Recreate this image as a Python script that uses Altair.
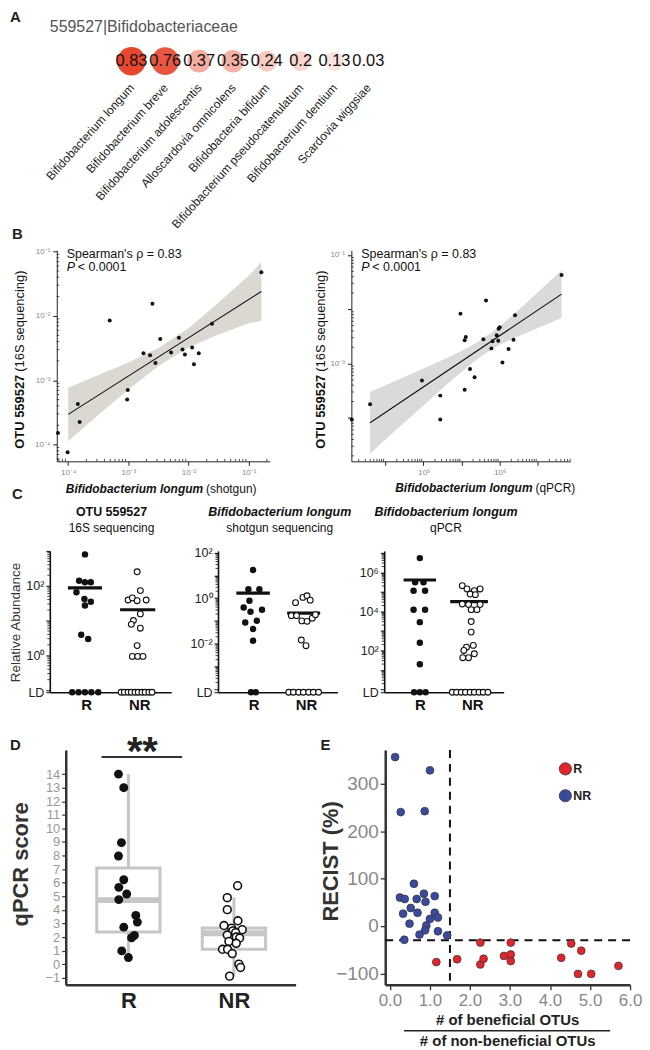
import math
import altair as alt
import pandas as pd

FONT = "Liberation Sans, Arial, sans-serif"

# ---------------- Panel A data ----------------
A_SPECIES = ["Bifidobacterium longum", "Bifidobacterium breve", "Bifidobacterium adolescentis",
             "Alloscardovia omnicolens", "Bifidobacteria bifidum", "Bifidobacterium pseudocatenulatum",
             "Bifidobacterium dentium", "Scardovia wiggsiae"]
A_RHO = [0.83, 0.76, 0.37, 0.35, 0.24, 0.2, 0.13, 0.03]
A_LABELS = ["0.83", "0.76", "0.37", "0.35", "0.24", "0.2", "0.13", "0.03"]
A_TITLE = "559527|Bifidobacteriaceae"

# ---------------- Panel B data (log10 values) ----------------
B1_X = [-0.79, -1.61, -2.60, -3.31, -2.47, -2.16, -2.75, -2.64, -2.29, -2.10, -2.06, -1.94, -1.83,
        -2.55, -1.91, -3.01, -3.02, -3.84, -3.81, -4.01, -4.17]
B1_Y = [-1.32, -2.12, -1.81, -2.07, -2.36, -2.34, -2.58, -2.61, -2.57, -2.52, -2.60, -2.49, -2.58,
        -2.73, -2.75, -3.15, -3.30, -3.37, -3.65, -4.12, -3.82]
B1_LINE_X = [-4.0, -0.79]
B1_LINE_Y = [-3.53, -1.62]
B1_BAND_X = [-4.0, -3.5, -3.0, -2.5, -2.0, -1.5, -1.0, -0.79]
B1_BAND_LO = [-3.945, -3.54, -3.145, -2.78, -2.49, -2.29, -2.115, -2.08]
B1_BAND_HI = [-3.115, -2.92, -2.725, -2.50, -2.19, -1.79, -1.375, -1.16]

B2_X = [6.62, 4.64, 3.97, 5.40, 5.00, 4.97, 4.92, 4.11, 4.08, 4.57, 4.81, 4.96, 5.36, 4.78, 5.23,
        5.07, 4.22, 4.34, 2.96, 4.08, 3.44, 1.60, 3.44, 1.12]
B2_Y = [-1.37, -1.84, -2.08, -2.11, -2.33, -2.36, -2.48, -2.51, -2.57, -2.55, -2.59, -2.58, -2.56,
        -2.72, -2.73, -2.98, -3.10, -3.25, -3.31, -3.48, -3.59, -3.75, -4.03, -4.03]
B2_LINE_X = [1.6, 6.62]
B2_LINE_Y = [-4.09, -1.72]
B2_BAND_X = [1.6, 2.0, 2.5, 3.0, 3.5, 4.0, 4.5, 5.0, 5.5, 6.0, 6.62]
B2_BAND_LO = [-4.66, -4.40, -4.085, -3.77, -3.455, -3.15, -2.87, -2.655, -2.49, -2.345, -2.16]
B2_BAND_HI = [-3.52, -3.40, -3.245, -3.09, -2.935, -2.77, -2.57, -2.315, -2.01, -1.685, -1.28]
RHO_TEXT = "Spearman's \u03c1 = 0.83"
P_TEXT = "< 0.0001"

# ---------------- Panel C data (log10 values; LD = limit of detection) ----------------
C1_LD = -1.06
C1_R_X = [0.98, 0.87, 0.98, 1.09, 0.82, 0.97, 1.09, 0.98, 0.91, 1.04, 0.74, 0.86, 0.98, 1.10, 1.23]
C1_R_Y = [2.90, 2.14, 2.10, 2.10, 1.81, 1.62, 1.54, 1.43, 0.59, 0.47] + [C1_LD] * 5
C1_NR_X = [1.96, 2.02, 1.79, 1.87, 1.96, 2.13, 2.02, 1.89, 1.85, 2.02, 1.96, 1.87, 1.97, 2.07,
           1.66, 1.72, 1.79, 1.85, 1.92, 1.98, 2.05, 2.11, 2.18, 2.24]
C1_NR_Y = [2.40, 1.86, 1.59, 1.65, 1.57, 1.59, 1.19, 1.00, 0.89, 0.78, 0.28, -0.03, -0.03, -0.03] + [C1_LD] * 10
C1_BAR_X0 = [0.66, 1.64]
C1_BAR_X1 = [1.30, 2.30]
C1_BAR_Y = [1.94, 1.31]

C2_LD = -4.13
C2_R_X = [0.99, 0.90, 1.11, 0.92, 0.81, 1.16, 0.94, 1.06, 0.84, 0.99, 0.99, 0.95, 1.04]
C2_R_Y = [1.23, 0.39, 0.39, -0.12, -0.41, -0.51, -0.60, -0.99, -1.07, -1.36, -1.87, C2_LD, C2_LD]
C2_NR_X = [1.80, 1.94, 2.02, 2.08, 1.72, 1.82, 1.92, 2.02, 2.12, 2.18, 1.91, 2.00,
           1.67, 1.76, 1.86, 1.95, 2.05, 2.14, 2.24]
C2_NR_Y = [-0.20, 0.03, 0.10, -0.09, -0.77, -0.77, -1.00, -1.02, -0.88, -0.73, -1.84, -2.09] + [C2_LD] * 7
C2_BAR_X0 = [0.67, 1.64]
C2_BAR_X1 = [1.31, 2.27]
C2_BAR_Y = [0.22, -0.66]

C3_LD = -0.14
C3_R_X = [1.0, 0.91, 1.07, 0.88, 1.10, 0.88, 1.10, 1.0, 1.0, 1.0, 0.89, 1.0, 1.11]
C3_R_Y = [6.73, 5.49, 5.49, 5.06, 5.06, 4.09, 4.09, 3.45, 2.39, 1.29, C3_LD, C3_LD, C3_LD]
C3_NR_X = [1.81, 1.90, 2.04, 2.15, 1.96, 2.06, 1.81, 1.93, 2.15, 1.98, 2.09, 1.98, 1.98, 1.89,
           2.02, 1.84, 1.82, 1.93, 2.04, 1.62, 1.70, 1.79, 1.87, 1.96, 2.04, 2.13, 2.21, 2.30]
C3_NR_Y = [5.32, 5.15, 5.06, 5.15, 4.89, 4.86, 4.38, 4.35, 4.35, 4.09, 4.09, 3.48, 2.94, 2.17,
           2.26, 2.00, 1.63, 1.63, 1.83] + [C3_LD] * 9
C3_BAR_X0 = [0.69, 1.58]
C3_BAR_X1 = [1.31, 2.30]
C3_BAR_Y = [5.61, 4.50]

# ---------------- Panel D data ----------------
D_R_X = [0.906, 0.956, 0.934, 0.906, 0.956, 0.909, 0.984, 0.909, 1.07, 1.085, 0.956, 1.057, 1.03, 0.937, 1.0]
D_R_Y = [14.0, 13.0, 8.95, 7.97, 6.22, 5.66, 5.17, 4.76, 3.59, 3.10, 2.73, 2.12, 1.95, 0.98, 0.49]
D_NR_X = [2.035, 1.937, 1.937, 2.038, 1.906, 1.978, 2.079, 1.99, 1.937, 2.016, 2.022, 2.054, 1.953,
          2.022, 1.892, 1.94, 1.984, 2.047, 2.063, 1.959]
D_NR_Y = [5.78, 4.90, 4.02, 3.20, 2.85, 2.66, 2.54, 2.45, 2.15, 2.32, 2.00, 1.93, 1.68, 1.54, 1.10,
          1.10, 0.78, 0.0, -0.24, -0.88]
D_GROUPS = [1, 2]
D_Q1 = [2.37, 1.10]
D_Q3 = [7.08, 2.66]
D_MED = [4.72, 2.28]
D_LO = [0.49, -0.85]
D_HI = [14.0, 4.93]

# ---------------- Panel E data ----------------
E_NR_X = [0.13, 1.00, 0.27, 0.87, 0.60, 0.25, 0.37, 0.67, 0.85, 1.12, 0.89, 0.52, 0.69, 0.33, 1.12,
          1.20, 1.00, 0.49, 0.91, 0.74, 0.88, 1.20, 1.43, 0.36]
E_NR_Y = [356, 328, 240, 242, 89, 60, 57, 57, 68, 63, 51, 38, 28, 26, 28, 18, 15, 5, 1, -18, -9,
          -11, -20, -29]
E_R_X = [2.26, 3.02, 4.53, 4.78, 1.16, 1.68, 2.26, 2.34, 2.85, 3.02, 3.02, 4.28, 4.70, 5.03, 5.71]
E_R_Y = [-35, -35, -37, -52, -76, -70, -81, -69, -63, -60, -74, -67, -101, -101, -84]
E_CUT_X = [1.5]
E_CUT_Y = [-30]

# ---------------- helpers ----------------
SUP = str.maketrans("-0123456789", "\u207b\u2070\u00b9\u00b2\u00b3\u2074\u2075\u2076\u2077\u2078\u2079")


def pow_label(n):
    return "10" + str(n).translate(SUP)


def label_expr(pairs):
    expr = "''"
    for v, t in reversed(pairs):
        expr = f"abs(datum.value - ({v})) < 1e-6 ? '{t}' : " + expr
    return expr


def txt(text, x, y, **kw):
    return alt.Chart(pd.DataFrame({"t": [text]})).mark_text(**kw).encode(
        x=alt.value(x), y=alt.value(y), text="t:N")


def hline(x1, x2, y, **kw):
    return alt.Chart(pd.DataFrame({"a": [0]})).mark_rule(**kw).encode(
        x=alt.value(x1), x2=alt.value(x2), y=alt.value(y))


def extent(top, bottom):
    # invisible frame that fixes the row's bounding box for the layout
    return alt.Chart(pd.DataFrame({"a": [0]})).mark_rule(opacity=0, strokeWidth=1).encode(
        x=alt.value(-41.5), y=alt.value(top), y2=alt.value(bottom))


def spacer(w, h, ext=None):
    base = alt.Chart(pd.DataFrame({"a": [0]})).mark_point(opacity=0).encode(
        x=alt.value(0), y=alt.value(0))
    if ext is not None:
        return alt.layer(base, extent(*ext)).properties(width=w, height=h)
    return base.properties(width=w, height=h)


def minor_positions(lo, hi):
    out = []
    for n in range(math.floor(lo) - 1, math.ceil(hi) + 1):
        for k in range(2, 10):
            v = n + math.log10(k)
            if lo <= v <= hi:
                out.append(v)
    return out


LETTER = dict(align="left", baseline="top", font=FONT, fontSize=15, fontWeight="bold", color="#222")

# ---------------- Panel A ----------------
dfA = pd.DataFrame({"species": A_SPECIES, "rho": A_RHO, "lab": A_LABELS, "row": ["r"] * len(A_SPECIES)})
xA = alt.X("species:N", sort=A_SPECIES,
           scale=alt.Scale(type="point", range=[82, 320], padding=0),
           axis=alt.Axis(title=None, labelAngle=-48, labelAlign="right", labelBaseline="middle",
                         labelFont=FONT, labelFontSize=12, labelColor="#222", domain=False,
                         ticks=False, labelPadding=5, labelLimit=400))
yA = alt.Y("row:N", axis=None)
circA = alt.Chart(dfA).mark_circle(opacity=1).encode(
    xA, yA,
    size=alt.Size("rho:Q", scale=alt.Scale(domain=[0.03, 0.83], range=[300, 820]), legend=None),
    color=alt.Color("rho:Q", scale=alt.Scale(domain=[0, 0.83], range=["#ffffff", "#e8472f"],
                                            interpolate="rgb"), legend=None))
textA = alt.Chart(dfA).mark_text(font=FONT, fontSize=16.5, color="#111").encode(xA, yA, text="lab:N")
chartA = alt.layer(
    extent(-32, 200),
    circA, textA,
    txt(A_TITLE, 0, -15, align="left", baseline="middle", font=FONT, fontSize=16, color="#555"),
    txt("A", -40, -32, **LETTER),
    txt("B", -38, 186, **LETTER),
).properties(width=400, height=38)


# ---------------- Panel B ----------------
def scatter_panel(px, py, lx, ly, bx, blo, bhi, xdom, ydom, w, h, xlab, ylab, xticks, yticks,
                  band_color, xt_bold, xt_norm, xt_y, xt_split, yt_x, extra=()):
    xs = alt.Scale(domain=xdom, nice=False, zero=False)
    ys = alt.Scale(domain=ydom, nice=False, zero=False)
    xax = alt.Axis(values=xticks, labelExpr=label_expr([(v, pow_label(v)) for v in xlab]), title=None,
                   grid=False, labelFont=FONT, labelFontSize=8, labelColor="#888", tickColor="#222",
                   tickSize=4, domainColor="#222", domainWidth=1, labelPadding=3)
    yax = alt.Axis(values=yticks, labelExpr=label_expr([(v, pow_label(v)) for v in ylab]), title=None,
                   grid=False, labelFont=FONT, labelFontSize=8, labelColor="#888", tickColor="#222",
                   tickSize=4, domainColor="#222", domainWidth=1, labelPadding=3)

    def X(f):
        return alt.X(f, type="quantitative", scale=xs, axis=xax)

    def Y(f):
        return alt.Y(f, type="quantitative", scale=ys, axis=yax)

    band = alt.Chart(pd.DataFrame({"x": bx, "lo": blo, "hi": bhi})).mark_area(
        color=band_color, opacity=1).encode(X("x"), Y("lo"), y2="hi")
    line = alt.Chart(pd.DataFrame({"x": lx, "y": ly})).mark_line(color="#111", strokeWidth=1.1).encode(
        X("x"), Y("y"))
    pts = alt.Chart(pd.DataFrame({"x": px, "y": py})).mark_circle(color="#111", size=16, opacity=1).encode(
        X("x"), Y("y"))
    xmin = alt.Chart(pd.DataFrame({"v": minor_positions(*xdom)})).mark_rule(
        color="#222", strokeWidth=0.8).encode(X("v"), y=alt.value(h), y2=alt.value(h - 2.5))
    ymin = alt.Chart(pd.DataFrame({"v": minor_positions(*ydom)})).mark_rule(
        color="#222", strokeWidth=0.8).encode(Y("v"), x=alt.value(0), x2=alt.value(2.5))
    layers = [band, line, pts, xmin, ymin,
              txt(RHO_TEXT, 10, 4, align="left", baseline="middle", font=FONT, fontSize=12.5, color="#111"),
              txt("P", 10, 17, align="left", baseline="middle", font=FONT, fontSize=12.5,
                  fontStyle="italic", color="#111"),
              txt(P_TEXT, 21, 17, align="left", baseline="middle", font=FONT, fontSize=12.5, color="#111"),
              txt("OTU 559527", yt_x, 125, angle=270, align="right", baseline="middle", font=FONT,
                  fontSize=13, fontWeight="bold", color="#111"),
              txt(" (16S sequencing)", yt_x, 125 - 3, angle=270, align="left", baseline="middle", font=FONT,
                  fontSize=13, color="#111"),
              txt(xt_bold, xt_split, xt_y, align="right", baseline="middle", font=FONT, fontSize=12,
                  fontWeight="bold", fontStyle="italic", color="#111"),
              txt(xt_norm, xt_split + 3, xt_y, align="left", baseline="middle", font=FONT, fontSize=12,
                  color="#111")]
    layers.extend(extra)
    return alt.layer(*layers).properties(width=w, height=h)


chartB1 = scatter_panel(B1_X, B1_Y, B1_LINE_X, B1_LINE_Y, B1_BAND_X, B1_BAND_LO, B1_BAND_HI,
                        [-4.19, -0.65], [-4.26, -0.98], 214, 212,
                        [-4, -3, -2, -1], [-4, -3, -2, -1], [-4, -3, -2, -1], [-4, -3, -2, -1],
                        "#dbd8d2", "Bifidobacterium longum", "(shotgun)", 240, 147, -37,
                        extra=[txt("C", -45, 238, **LETTER)])
chartB2 = scatter_panel(B2_X, B2_Y, B2_LINE_X, B2_LINE_Y, B2_BAND_X, B2_BAND_LO, B2_BAND_HI,
                        [1.11, 6.85], [-4.80, -0.914], 220, 212,
                        [3, 5], [-1, -3], [2, 3, 4, 5, 6], [-4, -3, -2, -1],
                        "#dadada", "Bifidobacterium longum", "(qPCR)", 239, 182, -30)


# ---------------- Panel C ----------------
def c_panel(rx, ry, nrx, nry, bx0, bx1, by, ydom, ld, labelled, head1, head1_italic, head2, w,
            first=False):
    h = 142
    xs = alt.Scale(domain=[0.32, 2.6], nice=False, zero=False)
    ys = alt.Scale(domain=ydom, nice=False, zero=False)
    xax = alt.Axis(values=[1, 2], labelExpr="datum.value == 1 ? 'R' : 'NR'", title=None, ticks=False,
                   labelFont=FONT, labelFontSize=15, labelFontWeight="bold", labelColor="#111",
                   labelPadding=5, domainColor="#111", domainWidth=1.6, grid=False)
    majors = [n for n in range(math.ceil(ydom[0]), math.floor(ydom[1]) + 1)]
    pairs = [(ld, "LD")] + [(n, pow_label(n)) for n in labelled]
    yax = alt.Axis(values=[ld] + majors, labelExpr=label_expr(pairs), title=None, grid=False,
                   labelFont=FONT, labelFontSize=12.5, labelColor="#222", tickColor="#111",
                   tickSize=4, domainColor="#111", domainWidth=1.6, labelPadding=2)

    def X(f):
        return alt.X(f, type="quantitative", scale=xs, axis=xax)

    def Y(f):
        return alt.Y(f, type="quantitative", scale=ys, axis=yax)

    r = alt.Chart(pd.DataFrame({"x": rx, "y": ry})).mark_circle(color="#111", size=42, opacity=1).encode(
        X("x"), Y("y"))
    nr = alt.Chart(pd.DataFrame({"x": nrx, "y": nry})).mark_point(
        shape="circle", filled=True, fill="white", stroke="#111", strokeWidth=1.1, size=34, opacity=1).encode(
        X("x"), Y("y"))
    bars = alt.Chart(pd.DataFrame({"x0": bx0, "x1": bx1, "y": by})).mark_rule(
        color="#111", strokeWidth=3.2).encode(X("x0"), x2="x1", y=Y("y"))
    ymin = alt.Chart(pd.DataFrame({"v": [v for v in minor_positions(ydom[0] + 0.15, ydom[1])]})).mark_rule(
        color="#111", strokeWidth=0.8).encode(Y("v"), x=alt.value(-2.5), x2=alt.value(0))
    layers = [bars, r, nr, ymin,
              txt(head1, 62, -39, align="center", baseline="middle", font=FONT, fontSize=12.5,
                  fontWeight="bold", fontStyle="italic" if head1_italic else "normal", color="#111"),
              txt(head2, 62, -23, align="center", baseline="middle", font=FONT, fontSize=12, color="#111")]
    if first:
        layers.insert(0, extent(-47, 172))
        layers.append(txt("Relative Abundance", -34, 72, angle=270, align="center", baseline="middle",
                          font=FONT, fontSize=13.5, color="#333"))
    return alt.layer(*layers).properties(width=w, height=h)


chartC1 = c_panel(C1_R_X, C1_R_Y, C1_NR_X, C1_NR_Y, C1_BAR_X0, C1_BAR_X1, C1_BAR_Y, [C1_LD, 3.0], C1_LD,
                  [0, 2], "OTU 559527", False, "16S sequencing", 122, first=True)
chartC2 = c_panel(C2_R_X, C2_R_Y, C2_NR_X, C2_NR_Y, C2_BAR_X0, C2_BAR_X1, C2_BAR_Y, [C2_LD, 2.07], C2_LD,
                  [-2, 0, 2], "Bifidobacterium longum", True, "shotgun sequencing", 120)
chartC3 = c_panel(C3_R_X, C3_R_Y, C3_NR_X, C3_NR_Y, C3_BAR_X0, C3_BAR_X1, C3_BAR_Y, [C3_LD, 7.1], C3_LD,
                  [2, 4, 6], "Bifidobacterium longum", True, "qPCR", 120)

# ---------------- Panel D ----------------
D_XS = alt.Scale(domain=[0.406, 2.585], nice=False, zero=False)
D_YS = alt.Scale(domain=[-1.52, 15.78], nice=False, zero=False)
D_XAX = alt.Axis(values=[1, 2], labelExpr="datum.value == 1 ? 'R' : 'NR'", title=None, ticks=False,
                 labelFont=FONT, labelFontSize=22, labelFontWeight="bold", labelColor="#222",
                 labelPadding=6, domainColor="#333", domainWidth=2.5, grid=False)
D_YAX = alt.Axis(values=list(range(-1, 15)), title=None, grid=False, labelFont=FONT, labelFontSize=13,
                 labelColor="#999", tickColor="#333", tickSize=4, tickWidth=1.2, domainColor="#333",
                 domainWidth=2.5, labelPadding=2, labelOverlap=False, labelFlush=False)


def DX(f):
    return alt.X(f, type="quantitative", scale=D_XS, axis=D_XAX)


def DY(f):
    return alt.Y(f, type="quantitative", scale=D_YS, axis=D_YAX)


BOX_GREY = "#c6c6c6"
dfBox = pd.DataFrame({"c": D_GROUPS, "q1": D_Q1, "q3": D_Q3, "med": D_MED, "lo": D_LO, "hi": D_HI})
boxbase = alt.Chart(dfBox).transform_calculate(l="datum.c - 0.3", r="datum.c + 0.3")
whisk_hi = boxbase.mark_rule(color=BOX_GREY, strokeWidth=3).encode(DX("c"), DY("q3"), y2="hi")
whisk_lo = boxbase.mark_rule(color=BOX_GREY, strokeWidth=3).encode(DX("c"), DY("lo"), y2="q1")
box = boxbase.mark_rect(fill="white", fillOpacity=0, stroke=BOX_GREY, strokeWidth=3).encode(
    DX("l"), x2="r", y=DY("q1"), y2="q3")
med = boxbase.mark_rule(color=BOX_GREY, strokeWidth=6).encode(DX("l"), x2="r", y=DY("med"))
d_r = alt.Chart(pd.DataFrame({"x": D_R_X, "y": D_R_Y})).mark_circle(color="#111", size=80, opacity=1).encode(
    DX("x"), DY("y"))
d_nr = alt.Chart(pd.DataFrame({"x": D_NR_X, "y": D_NR_Y})).mark_point(
    shape="circle", filled=True, fill="white", stroke="#111", strokeWidth=1.6, size=62, opacity=1).encode(
    DX("x"), DY("y"))
chartD = alt.layer(
    whisk_hi, whisk_lo, box, med, d_r, d_nr,
    hline(36, 117, 7, color="#333", strokeWidth=2),
    txt("**", 77, 15, align="center", baseline="alphabetic", font=FONT, fontSize=40, fontWeight="bold",
        color="#222"),
    txt("qPCR score", -45, 115, angle=270, align="center", baseline="middle", font=FONT, fontSize=22,
        fontWeight="bold", color="#333"),
    txt("D", -56, -12, **LETTER),
).properties(width=231, height=236)

# ---------------- Panel E ----------------
E_XS = alt.Scale(domain=[-0.117, 6.0], nice=False, zero=False)
E_YS = alt.Scale(domain=[-124, 371], nice=False, zero=False)
E_XAX = alt.Axis(values=[0, 1, 2, 3, 4, 5, 6], format=".1f", title=None, grid=False, labelFont=FONT,
                 labelFontSize=17, labelColor="#888", tickColor="#333", tickSize=5, tickWidth=1.3,
                 domainColor="#333", domainWidth=2.5, labelPadding=3, labelFlush=False)
E_YAX = alt.Axis(values=[-100, 0, 100, 200, 300], title=None, grid=False, labelFont=FONT, labelFontSize=19,
                 labelColor="#888", tickColor="#333", tickSize=5, tickWidth=1.3, domainColor="#333",
                 domainWidth=2.5, labelPadding=2)

dfE = pd.DataFrame({"x": E_NR_X + E_R_X, "y": E_NR_Y + E_R_Y,
                    "g": ["NR"] * len(E_NR_X) + ["R"] * len(E_R_X)})
e_pts = alt.Chart(dfE).mark_circle(size=62, opacity=1, stroke="#333", strokeWidth=0.7).encode(
    x=alt.X("x:Q", scale=E_XS, axis=E_XAX),
    y=alt.Y("y:Q", scale=E_YS, axis=E_YAX),
    color=alt.Color("g:N", scale=alt.Scale(domain=["R", "NR"], range=["#e0262c", "#3a4b9f"]),
                    legend=alt.Legend(orient="none", legendX=511, legendY=12, title=None, symbolType="circle",
                                      symbolSize=150, symbolStrokeColor="#333", symbolStrokeWidth=0.8,
                                      labelFont=FONT, labelFontSize=12.5, labelFontWeight="bold",
                                      labelColor="#222", rowPadding=11, labelOffset=1)))
e_vx = alt.Chart(pd.DataFrame({"v": E_CUT_X})).mark_rule(strokeDash=[8, 6], strokeWidth=2, color="#111").encode(
    x=alt.X("v:Q", scale=E_XS, axis=E_XAX))
e_hy = alt.Chart(pd.DataFrame({"v": E_CUT_Y})).mark_rule(strokeDash=[8, 6], strokeWidth=2, color="#111").encode(
    y=alt.Y("v:Q", scale=E_YS, axis=E_YAX))
chartE = alt.layer(
    e_vx, e_hy, e_pts,
    txt("RECIST (%)", -54, 112, angle=270, align="center", baseline="middle", font=FONT, fontSize=22,
        fontWeight="bold", color="#333"),
    txt("# of beneficial OTUs", 123, 271, align="center", baseline="middle", font=FONT, fontSize=15,
        fontWeight="bold", color="#222"),
    hline(19, 226, 282, color="#222", strokeWidth=1.5),
    txt("# of non-beneficial OTUs", 123, 292, align="center", baseline="middle", font=FONT, fontSize=15,
        fontWeight="bold", color="#222"),
    txt("E", -65, -12, **LETTER),
).properties(width=246, height=236)

# ---------------- Layout ----------------
rowB = alt.hconcat(spacer(7, 212, ext=(-8, 255)), chartB1, spacer(82, 212), chartB2,
                   spacing=0, bounds="flush")
rowC = alt.hconcat(chartC1, chartC2, chartC3, spacing=47, bounds="flush")
rowD = alt.hconcat(spacer(16, 236, ext=(-28, 300)), chartD, spacer(90, 236), chartE,
                   spacing=0, bounds="flush")

chart = alt.vconcat(chartA, rowB, rowC, rowD, spacing=0).properties(
    padding={"left": 0, "top": 0, "right": 0, "bottom": 0}
).configure(font=FONT).configure_view(strokeWidth=0)

chart.save("out.html", embed_options={"renderer": "svg", "actions": False})
